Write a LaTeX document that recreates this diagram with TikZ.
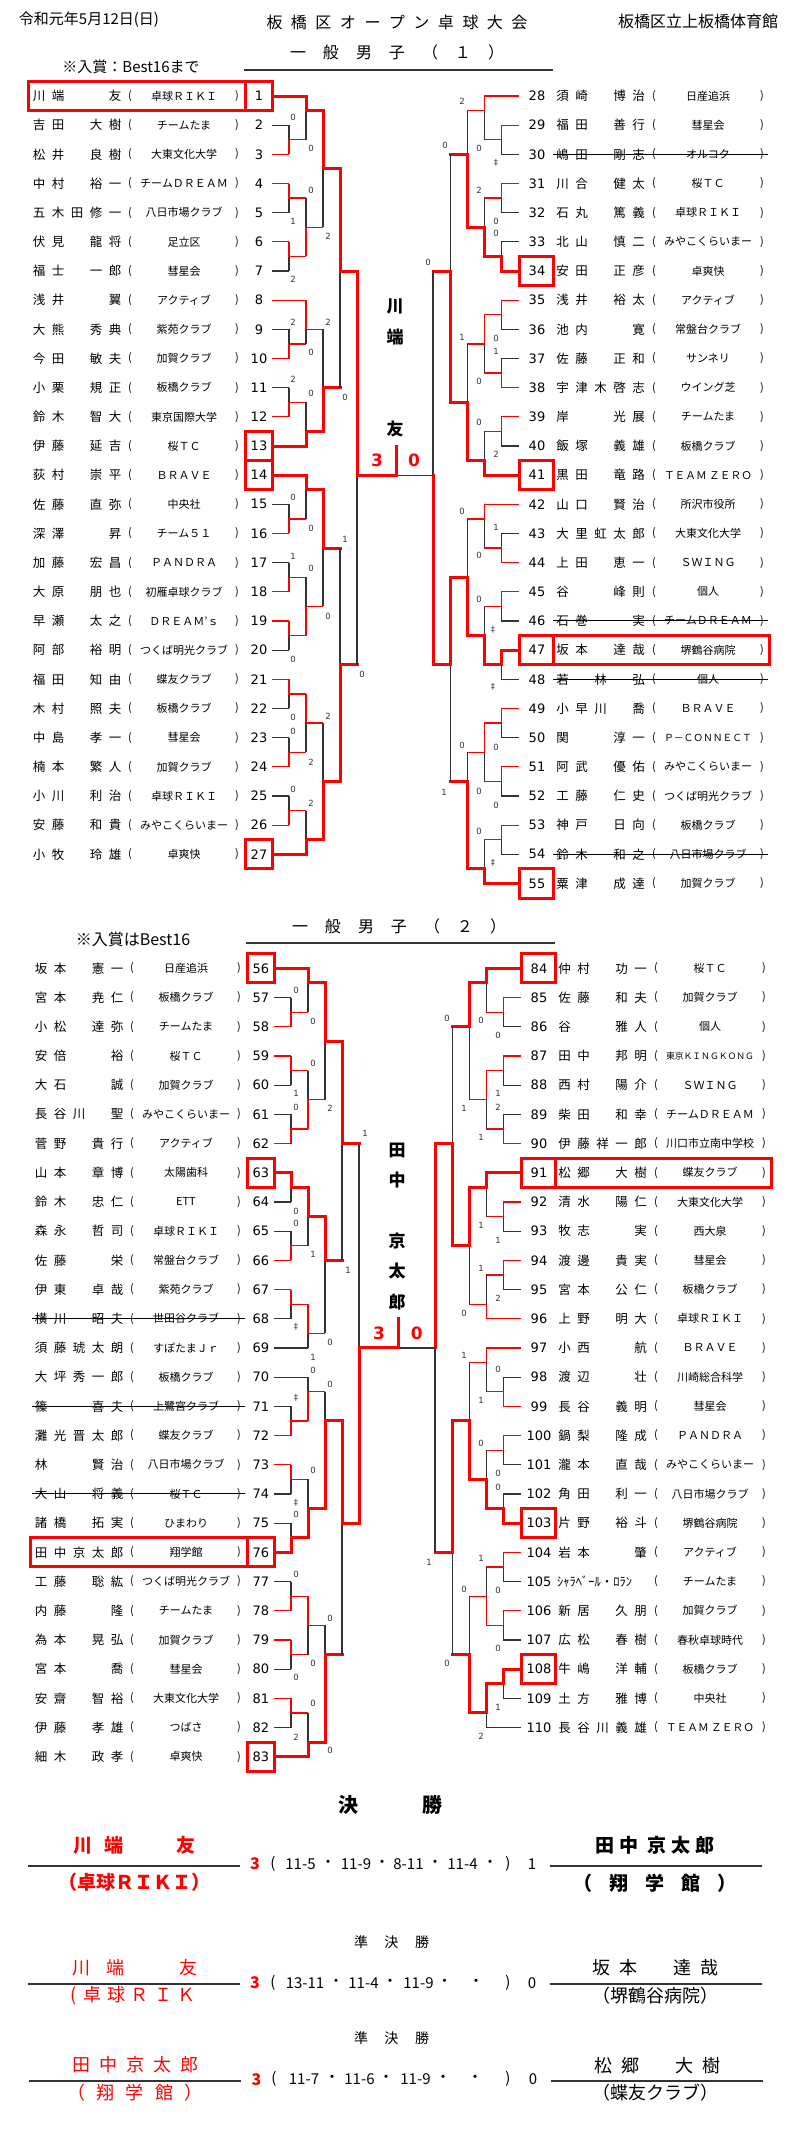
\documentclass[tikz,border=0pt]{standalone}
\usepackage{fontspec,graphicx}
\setmainfont{Noto Sans CJK JP}
\newfontfamily\dv{DejaVu Sans}
\definecolor{win}{HTML}{FF0000}
\definecolor{ln}{HTML}{333333}
\makeatletter
\newcommand\slots[2]{\expandafter\@tfor\expandafter\nmc\expandafter:\expandafter=#2\do{\makebox[#1]{\if*\nmc\else\nmc\fi}}}
\makeatother
\newcommand\fitc[1]{\sbox0{#1}\ifdim\wd0>88pt\resizebox{88pt}{!}{\usebox0}\else\usebox0\fi}
\tikzset{ls/.style={draw=ln,line width=1.2pt},wn/.style={draw=win,line width=1.2pt},wt/.style={draw=win,line width=3pt,line cap=rect},
pick/.style={draw=win,line width=3pt},cut/.style={draw=black,line width=1pt},ul/.style={draw=ln,line width=1.3pt},bl/.style={draw=ln,line width=2pt},
nm/.style={anchor=west,inner sep=0pt,font=\fontsize{12.5}{14}\selectfont},cl/.style={inner sep=0pt,font=\fontsize{11}{13}\selectfont},
no/.style={inner sep=0pt,font=\dv\fontsize{13}{15}\selectfont},sc/.style={inner sep=0pt,text=ln,font=\dv\fontsize{8.5}{9}\selectfont},
hd/.style={inner sep=0pt,font=\fontsize{15}{17}\selectfont},tt/.style={inner sep=0pt,font=\fontsize{16}{18}\selectfont},
vn/.style={inner sep=0pt,font=\bfseries\fontsize{17}{19}\selectfont},pt/.style={inner sep=0pt,text=win,font=\dv\bfseries\fontsize{17}{19}\selectfont},
fw/.style={inner sep=0pt,font=\bfseries\fontsize{19}{21}\selectfont},sn/.style={inner sep=0pt,font=\fontsize{18}{20}\selectfont},
gs/.style={inner sep=0pt,font=\fontsize{15}{17}\selectfont},bs/.style={inner sep=0pt,text=win,font=\bfseries\fontsize{16}{18}\selectfont}}
% left block of entries: number/name/club/flag/level/line
\newcommand\lrows[1]{\foreach \n/\a/\b/\fl/\lv/\st [count=\k from 0] in {#1}{
 \node[nm] (p\n) at (29.5,2*\k) {\slots{19pt}{\a}};
 \node[cl] (o\n) at (130,2*\k) {(};
 \node[cl] (c\n) at (184,2*\k) {\fitc{\b}};
 \node[cl] (e\n) at (237,2*\k) {)};
 \node[no] (n\n) at (259,2*\k) {\n};
 \draw[\st] (272,2*\k) -- ({272+17*\lv},2*\k);
 \if s\fl\draw[cut] (30,2*\k) -- (243,2*\k);\fi
 \if b\fl\draw[pick] (245,2*\k-1) rectangle (272,2*\k+1);\fi
 \if B\fl\draw[pick] (28,2*\k-1) rectangle (245,2*\k+1) (245,2*\k-1) rectangle (272,2*\k+1);\fi}}
% right block
\newcommand\rrows[1]{\foreach \n/\a/\b/\fl/\lv/\st [count=\k from 0] in {#1}{
 \node[no] (n\n) at (537,2*\k) {\n};
 \node[nm] (p\n) at (553,2*\k) {\slots{19pt}{\a}};
 \node[cl] (o\n) at (654,2*\k) {(};
 \node[cl] (c\n) at (708,2*\k) {\fitc{\b}};
 \node[cl] (e\n) at (762,2*\k) {)};
 \draw[\st] (518.5,2*\k) -- ({518.5-17.1*\lv},2*\k);
 \if s\fl\draw[cut] (553,2*\k) -- (768,2*\k);\fi
 \if b\fl\draw[pick] (519,2*\k-1) rectangle (553,2*\k+1);\fi
 \if B\fl\draw[pick] (519,2*\k-1) rectangle (553,2*\k+1) (553,2*\k-1) rectangle (769,2*\k+1);\fi}}
% matches: level/top/bottom/out/winner(0 top,1 bottom)/style
\newcommand\games[3]{\foreach \l/\t/\b/\o/\w/\s in {#3}{
 \pgfmathsetmacro\xa{#1+(#2)*\l}
 \pgfmathsetmacro\xb{\l==5 ? \xa : #1+(#2)*(\l+1)}
 \ifnum\w=0 \draw[ls] (\xa,\o) -- (\xa,\b); \draw[\s] (\xa,\t) -- (\xa,\o) -- (\xb,\o);
 \else \draw[ls] (\xa,\t) -- (\xa,\o); \draw[\s] (\xa,\b) -- (\xa,\o) -- (\xb,\o); \fi}}
\begin{document}
\begin{tikzpicture}[x=1pt,y=-1pt]
\useasboundingbox (0,0) rectangle (796,2134);
\fill[white] (0,0) rectangle (796,2134);
\node[hd] (date) at (89,20) {令和元年5月12日(日)};
\node[tt] (title) at (397,22) {\slots{24.5pt}{板橋区オープン卓球大会}};
\node[tt] (hall) at (698,21) {板橋区立上板橋体育館};
% 一般男子 (1)
\node[tt] (sub1) at (397,52) {\slots{33pt}{一般男子（１）}};
\draw[ul] (244,70) -- (553,70);
\node[hd] (note1) at (131,67) {※入賞：Best16まで};
\begin{scope}[shift={(0,96)},y=-14.583pt]
\lrows{1/川端**友/卓球ＲＩＫＩ/B/2/wt,2/吉田*大樹/チームたま/-/1/ls,3/松井*良樹/大東文化大学/-/1/wn,4/中村*裕一/チームＤＲＥＡＭ/-/1/wn,
5/五木田修一/八日市場クラブ/-/1/ls,6/伏見*龍将/足立区/-/1/wn,7/福士*一郎/彗星会/-/1/ls,8/浅井**翼/アクティブ/-/2/wn,
9/大熊*秀典/紫苑クラブ/-/1/ls,10/今田*敏夫/加賀クラブ/-/1/wn,11/小栗*規正/板橋クラブ/-/1/ls,12/鈴木*智大/東京国際大学/-/1/wn,
13/伊藤*延吉/桜ＴＣ/b/2/wt,14/荻村*崇平/ＢＲＡＶＥ/b/2/wt,15/佐藤*直弥/中央社/-/1/ls,16/深澤**昇/チーム５１/-/1/wn,
17/加藤*宏昌/ＰＡＮＤＲＡ/-/1/ls,18/大原*朋也/初雁卓球クラブ/-/1/wn,19/早瀬*太之/ＤＲＥＡＭ’ｓ/-/1/wn,20/阿部*裕明/つくば明光クラブ/-/1/ls,
21/福田*知由/蝶友クラブ/-/1/wn,22/木村*照夫/板橋クラブ/-/1/ls,23/中島*孝一/彗星会/-/1/ls,24/楠本*繁人/加賀クラブ/-/1/wn,
25/小川*利治/卓球ＲＩＫＩ/-/1/ls,26/安藤*和貴/みやこくらいまー/-/1/wn,27/小牧*玲雄/卓爽快/b/2/wt}
\rrows{28/須崎*博治/日産追浜/-/2/wn,29/福田*善行/彗星会/-/1/wn,30/嶋田*剛志/オルコク/s/1/ls,31/川合*健太/桜ＴＣ/-/1/wn,
32/石丸*篤義/卓球ＲＩＫＩ/-/1/ls,33/北山*慎二/みやこくらいまー/-/1/ls,34/安田*正彦/卓爽快/b/1/wt,35/浅井*裕太/アクティブ/-/1/wn,
36/池内**寛/常盤台クラブ/-/1/ls,37/佐藤*正和/サンネリ/-/1/ls,38/宇津木啓志/ウイング芝/-/1/wn,39/岸**光展/チームたま/-/1/wn,
40/飯塚*義雄/板橋クラブ/-/1/ls,41/黒田*竜路/ＴＥＡＭ ＺＥＲＯ/b/2/wt,42/山口*賢治/所沢市役所/-/2/wn,43/大里虹太郎/大東文化大学/-/1/ls,
44/上田*恵一/ＳＷＩＮＧ/-/1/wn,45/谷**峰則/個人/-/1/wn,46/石巻**実/チームＤＲＥＡＭ/s/1/ls,47/坂本*達哉/堺鶴谷病院/B/1/wt,
48/若*林*弘/個人/s/1/ls,49/小早川*喬/ＢＲＡＶＥ/-/1/wn,50/関**淳一/Ｐ－ＣＯＮＮＥＣＴ/-/1/ls,51/阿武*優佑/みやこくらいまー/-/1/wn,
52/工藤*仁史/つくば明光クラブ/-/1/ls,53/神戸*日向/板橋クラブ/-/1/wn,54/鈴木*和之/八日市場クラブ/s/1/ls,55/粟津*成達/加賀クラブ/b/2/wt}
\games{272}{17}{1/2/4/3/1/wn,1/6/8/7/0/wn,1/10/12/11/0/wn,1/16/18/17/1/wn,1/20/22/21/1/wn,1/28/30/29/1/wn,1/32/34/33/1/wn,
1/36/38/37/0/wn,1/40/42/41/0/wn,1/44/46/45/1/wn,1/48/50/49/1/wn,
2/0/3/1/0/wt,2/7/11/9/1/wn,2/14/17/16/0/wn,2/21/24/23/1/wt,2/26/29/27/0/wt,2/33/37/35/1/wn,2/41/45/43/0/wn,2/49/52/51/1/wt,
3/1/9/5/0/wt,3/16/23/20/1/wt,3/27/35/31/0/wt,3/43/51/47/1/wt,4/5/20/12/0/wt,4/31/47/39/1/wt,5/12/39/26/0/wt}
\games{518.5}{-17.1}{1/2/4/3/0/wn,1/6/8/7/0/wn,1/10/12/11/1/wt,1/14/16/15/0/wn,1/18/20/19/1/wn,1/22/24/23/0/wn,1/30/32/31/1/wn,
1/34/36/35/0/wn,1/38/40/39/0/wt,1/42/44/43/0/wn,1/46/48/47/0/wn,1/50/52/51/0/wn,
2/0/3/1/0/wn,2/7/11/9/1/wt,2/15/19/17/0/wn,2/23/26/25/1/wt,2/28/31/29/0/wn,2/35/39/37/1/wt,2/43/47/45/0/wn,2/51/54/53/1/wt,
3/1/9/4/1/wt,3/17/25/21/1/wt,3/29/37/33/1/wt,3/45/53/47/1/wt,4/4/21/12/1/wt,4/33/47/39/0/wt,5/12/39/26/1/wt}
\draw[ls] (396,26) -- (433,26);
\draw[wt] (357,26) -- (396,26) -- (396,24);
\node[pt] (wa) at (377,25) {3};
\node[pt] (la) at (414,25) {0};
\foreach \ch/\y [count=\i] in {川/14.45,端/16.55,友/22.85} \node[vn] (va\i) at (395,\y) {\ch};
\end{scope}
% 一般男子 (2)
\node[tt] (sub2) at (399,926) {\slots{33pt}{一般男子（２）}};
\draw[ul] (246,943) -- (555,943);
\node[hd,font=\fontsize{16}{18}\selectfont] (note2) at (133,939) {※入賞はBest16};
\begin{scope}[shift={(2,968.3)},y=-14.6pt]
\lrows{56/坂本*憲一/日産追浜/b/2/wt,57/宮本*尭仁/板橋クラブ/-/1/ls,58/小松*達弥/チームたま/-/1/wn,59/安倍**裕/桜ＴＣ/-/1/wn,
60/大石**誠/加賀クラブ/-/1/ls,61/長谷川*聖/みやこくらいまー/-/1/ls,62/菅野*貴行/アクティブ/-/1/wn,63/山本*章博/太陽歯科/b/1/wt,
64/鈴木*忠仁/ETT/-/1/ls,65/森永*哲司/卓球ＲＩＫＩ/-/1/ls,66/佐藤**栄/常盤台クラブ/-/1/wn,67/伊東*卓哉/紫苑クラブ/-/1/wn,
68/横川*昭夫/世田谷クラブ/s/1/ls,69/須藤琥太朗/すぽたまＪｒ/-/2/ls,70/大坪秀一郎/板橋クラブ/-/2/ls,71/篠**喜夫/上鷺宮クラブ/s/1/ls,
72/灘光晋太郎/蝶友クラブ/-/1/wn,73/林**賢治/八日市場クラブ/-/1/wn,74/大山*将義/桜ＴＣ/s/1/ls,75/諸橋*拓実/ひまわり/-/1/ls,
76/田中京太郎/翔学館/B/1/wt,77/工藤*聡紘/つくば明光クラブ/-/1/ls,78/内藤**隆/チームたま/-/1/wn,79/為本*晃弘/加賀クラブ/-/1/wn,
80/宮本**喬/彗星会/-/1/ls,81/安齋*智裕/大東文化大学/-/1/wn,82/伊藤*孝雄/つばさ/-/1/ls,83/細木*政孝/卓爽快/b/2/wt}
\rrows{84/仲村*功一/桜ＴＣ/b/2/wt,85/佐藤*和夫/加賀クラブ/-/1/wn,86/谷**雅人/個人/-/1/ls,87/田中*邦明/東京ＫＩＮＧＫＯＮＧ/-/1/wn,
88/西村*陽介/ＳＷＩＮＧ/-/1/ls,89/柴田*和幸/チームＤＲＥＡＭ/-/1/ls,90/伊藤祥一郎/川口市立南中学校/-/1/wn,91/松郷*大樹/蝶友クラブ/B/2/wt,
92/清水*陽仁/大東文化大学/-/1/wn,93/牧志**実/西大泉/-/1/ls,94/渡邊*貴実/彗星会/-/1/wn,95/宮本*公仁/板橋クラブ/-/1/ls,
96/上野*明大/卓球ＲＩＫＩ/-/2/wn,97/小西**航/ＢＲＡＶＥ/-/2/wn,98/渡辺**壮/川崎総合科学/-/1/ls,99/長谷*義明/彗星会/-/1/wn,
100/鍋梨*隆成/ＰＡＮＤＲＡ/-/1/wn,101/瀧本*直哉/みやこくらいまー/-/1/ls,102/角田*利一/八日市場クラブ/-/1/ls,103/片野*裕斗/堺鶴谷病院/b/1/wt,
104/岩本**肇/アクティブ/-/1/wn,105/*/チームたま/-/1/ls,106/新居*久朋/加賀クラブ/-/1/wn,107/広松*春樹/春秋卓球時代/-/1/ls,
108/牛嶋*洋輔/板橋クラブ/b/1/wt,109/土方*雅博/中央社/-/1/ls,110/長谷川義雄/ＴＥＡＭ ＺＥＲＯ/-/2/ls}
\node[nm] (p105x) at (555,42) {ｼｬﾗﾍﾞｰﾙ・ﾛﾗﾝ};
\games{272}{17}{1/2/4/3/1/wn,1/6/8/7/0/wn,1/10/12/11/1/wn,1/14/16/15/0/wt,1/18/20/19/1/wn,1/22/24/23/0/wn,1/30/32/31/1/wn,
1/34/36/35/0/wn,1/38/40/39/1/wt,1/42/44/43/1/wn,1/46/48/47/0/wn,1/50/52/51/0/wn,
2/0/3/1/0/wt,2/7/11/9/1/wn,2/15/19/17/0/wt,2/23/26/25/0/wn,2/28/31/29/1/wn,2/35/39/37/1/wt,2/43/47/45/0/wn,2/51/54/53/1/wt,
3/1/9/5/0/wt,3/17/25/20/0/wt,3/29/37/31/1/wt,3/45/53/47/1/wt,4/5/20/12/0/wt,4/31/47/38/0/wt,5/12/38/26/1/wt}
\games{518.5}{-17.1}{1/2/4/3/0/wn,1/6/8/7/0/wn,1/10/12/11/1/wn,1/16/18/17/0/wn,1/20/22/21/0/wn,1/28/30/29/1/wn,1/32/34/33/0/wn,
1/36/38/37/1/wt,1/40/42/41/0/wn,1/44/46/45/0/wn,1/48/50/49/0/wt,
2/0/3/1/0/wt,2/7/11/9/0/wn,2/14/17/15/0/wt,2/21/24/23/1/wn,2/26/29/27/0/wn,2/33/37/35/1/wt,2/41/45/43/1/wn,2/49/52/51/0/wt,
3/1/9/4/0/wt,3/15/23/19/0/wt,3/27/35/31/1/wt,3/43/51/47/1/wt,4/4/19/12/1/wt,4/31/47/40/0/wt,5/12/40/26/0/wt}
\draw[ls] (396,26) -- (433,26);
\draw[wt] (357,26) -- (396,26) -- (396,24);
\node[pt] (wb) at (377,25) {3};
\node[pt] (lb) at (414.7,25) {0};
\foreach \ch/\y [count=\i] in {田/12.45,中/14.5,京/18.65,太/20.75,郎/22.85} \node[vn] (vb\i) at (395,\y) {\ch};
\end{scope}
% game counts
\foreach \x/\y/\t [count=\i] in {293/117/0,311/148/0,311/190/0,293/221/1,328/236/2,293/279/2,293/322/2,328/322/2,311/352/0,293/379/2,
311/393/0,345/397/0,293/497/0,311/528/0,345/539/1,293/556/1,311/568/0,328/616/0,293/659/0,362/674/0,328/716/2,293/717/0,293/731/0,
311/762/2,293/789/0,311/803/2,
462/101/2,479/148/0,445/145/0,479/190/2,496/221/0,496/233/0,428/262/0,462/337/1,496/338/0,496/351/1,479/381/0,479/422/0,496/454/2,
462/511/0,496/527/1,479/555/0,479/599/0,462/745/0,496/747/0,479/791/0,444/792/1,496/805/0,479/831/0,
296/990/0,313/1021/0,313/1063/0,296/1093/1,296/1107/0,330/1108/2,365/1133/1,296/1211/0,296/1223/0,313/1254/1,348/1270/1,330/1342/0,
313/1357/1,313/1370/0,330/1384/0,313/1470/0,296/1514/0,296/1574/0,330/1618/0,313/1663/0,296/1677/0,313/1703/0,296/1737/2,330/1750/0,
447/1018/0,481/1020/0,498/1035/0,498/1093/1,498/1107/2,464/1108/1,481/1137/1,481/1225/1,498/1240/1,481/1268/1,498/1298/2,464/1313/0,
464/1355/1,498/1369/0,481/1400/1,481/1443/0,498/1473/0,498/1487/0,481/1558/1,429/1562/1,464/1589/0,498/1590/0,498/1648/0,447/1663/0,
498/1707/1,481/1736/2}
 \node[sc] (g\i) at (\x,\y) {\t};
\foreach \x/\y [count=\i] in {496/163,493/630,493/687,493/863,296/1327,296/1398,296/1503}
 \node[sc] (d\i) at (\x,\y) {‡};
% 決勝
\node[fw,font=\bfseries\fontsize{20}{22}\selectfont] (fin) at (390,1805) {\slots{84pt}{決勝}};
\node[fw,text=win] (fl) at (134.5,1845) {\makebox[122pt]{川\hspace{12pt}端\hfill 友}};
\node[fw,text=win] (flc) at (134,1882) {（卓球ＲＩＫＩ）};
\node[fw] (fr) at (655,1845) {\slots{24pt}{田中}\hspace{4pt}\slots{24pt}{京太郎}};
\node[fw] (frc) at (655,1883) {\slots{36pt}{（翔学館）}};
\draw[bl] (28,1866) -- (240,1866);
\draw[bl] (549.5,1866) -- (761.5,1866);
\node[bs] (f3) at (255,1864) {3};
\foreach \x/\t [count=\i] in {273/(,300.5/11-5,328/・,356/11-9,382/・,408.5/8-11,435/・,462.5/11-4,490/・,508/),532/1}
 \node[gs] (fa\i) at (\x,1864) {\t};
% 準決勝
\node[gs,font=\fontsize{14}{16}\selectfont] (sfa) at (391.5,1942) {\slots{30.5pt}{準決勝}};
\node[sn,text=win] (sal) at (134.5,1968) {\makebox[125pt]{川\hspace{17pt}端\hfill 友}};
\node[sn,text=win] (salc) at (132.5,1996) {\makebox[15pt]{(}\slots{23.5pt}{卓球ＲＩＫ}};
\node[sn] (sar) at (655,1968) {\slots{27pt}{坂本*達哉}};
\node[sn] (sarc) at (655.5,1996) {（堺鶴谷病院）};
\draw[bl] (28,1984) -- (240,1984);
\draw[bl] (549.5,1984) -- (761.5,1984);
\node[bs] (sa3) at (255,1982.7) {3};
\foreach \x/\t [count=\i] in {273/(,305/13-11,336/・,363.5/11-4,390/・,418.5/11-9,444.5/・,476/・,508/),532/0}
 \node[gs] (sa\i) at (\x,1982.7) {\t};
\node[gs,font=\fontsize{14}{16}\selectfont] (sfb) at (391.5,2038.3) {\slots{30.5pt}{準決勝}};
\node[sn,text=win] (sbl) at (135,2065) {\slots{27pt}{田中京太郎}};
\node[sn,text=win] (sblc) at (135,2092.7) {\slots{29.5pt}{（翔学館）}};
\node[sn] (sbr) at (657,2066) {\slots{27pt}{松郷*大樹}};
\node[sn] (sbrc) at (655.5,2092.7) {（蝶友クラブ）};
\draw[bl] (29,2080.7) -- (241,2080.7);
\draw[bl] (550.5,2080.7) -- (762.5,2080.7);
\node[bs] (sb3) at (256.6,2079.3) {3};
\foreach \x/\t [count=\i] in {274/(,304/11-7,332/・,359.5/11-6,386/・,415.5/11-9,443/・,475/・,508/),533/0}
 \node[gs] (sb\i) at (\x,2079.3) {\t};
\end{tikzpicture}
\end{document}
